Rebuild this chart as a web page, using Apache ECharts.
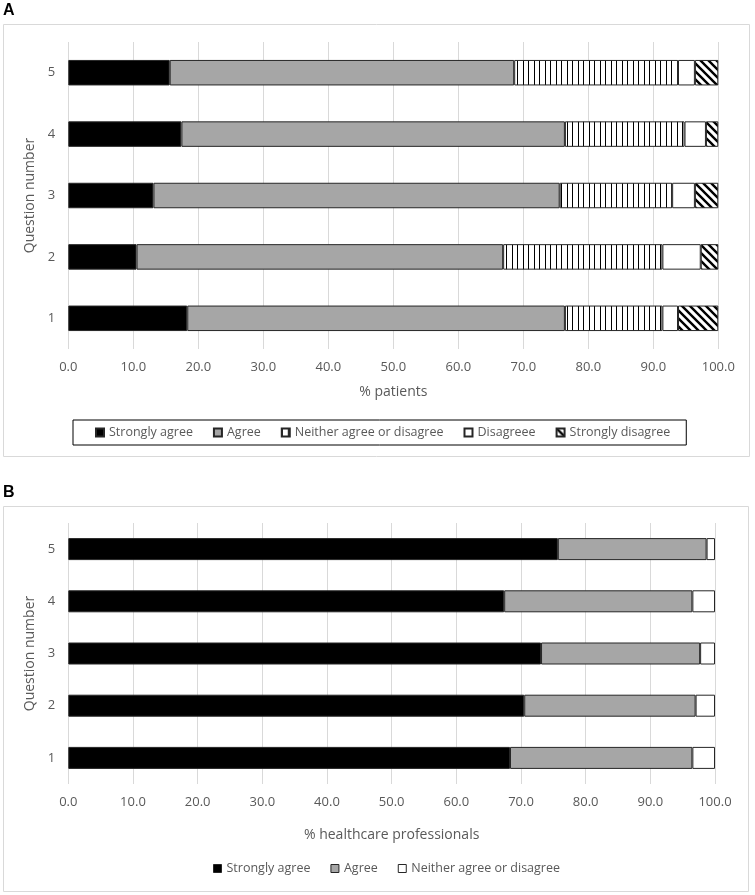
<!DOCTYPE html>
<html lang="en">
  <head>
    <meta charset="UTF-8" />
    <title>Survey responses</title>
    <script src="https://cdn.jsdelivr.net/npm/echarts@6/dist/echarts.min.js"></script>
    <style>
      html, body { margin: 0; padding: 0; background: #fff; }
      #chart { width: 755px; height: 895px; }
    </style>
  </head>
  <body>
    <div id="chart"></div>

    <script>
      const questions = ["1", "2", "3", "4", "5"];

      // panel A: patients (%)
      const patStronglyAgree = [18.3, 10.5, 13.1, 17.4, 15.6];
      const patAgree = [58.1, 56.4, 62.5, 59.0, 53.0];
      const patNeither = [15.0, 24.5, 17.3, 18.4, 25.2];
      const patDisagree = [2.4, 5.9, 3.5, 3.3, 2.6];
      const patStronglyDisagree = [6.2, 2.7, 3.6, 1.9, 3.6];

      // panel B: healthcare professionals (%)
      const hcpStronglyAgree = [68.3, 70.5, 73.1, 67.4, 75.7];
      const hcpAgree = [28.2, 26.5, 24.6, 29.1, 23.0];
      const hcpNeither = [3.5, 3.0, 2.3, 3.5, 1.3];

      const namesA = ["Strongly agree", "Agree", "Neither agree or disagree", "Disagreee", "Strongly disagree"];
      const namesB = ["Strongly agree", "Agree", "Neither agree or disagree"];

      const font = "Open Sans";
      const grey = "#595959";

      // hatch patterns
      function vLines() {
        const c = document.createElement("canvas");
        c.width = 11; c.height = 10;
        const ctx = c.getContext("2d");
        ctx.fillStyle = "#fff";
        ctx.fillRect(0, 0, 11, 10);
        ctx.fillStyle = "#000";
        ctx.fillRect(0, 0, 1, 10);
        ctx.fillRect(6, 0, 1, 10);
        return c;
      }
      function diagLines() {
        const s = 8;
        const c = document.createElement("canvas");
        c.width = s; c.height = s;
        const ctx = c.getContext("2d");
        ctx.fillStyle = "#fff";
        ctx.fillRect(0, 0, s, s);
        ctx.strokeStyle = "#000";
        ctx.lineWidth = 2.4;
        ctx.beginPath();
        ctx.moveTo(-2, -2); ctx.lineTo(s + 2, s + 2);
        ctx.moveTo(-2, s - 2); ctx.lineTo(2, s + 2);
        ctx.moveTo(s - 2, -2); ctx.lineTo(s + 2, 2);
        ctx.stroke();
        return c;
      }
      const vPattern = { image: vLines(), repeat: "repeat" };
      const dPattern = { image: diagLines(), repeat: "repeat" };

      const chart = echarts.init(document.getElementById("chart"));

      const xAxisBase = (gridIndex, name, nameGap) => ({
        type: "value",
        gridIndex,
        min: 0,
        max: 100,
        interval: 10,
        name,
        nameLocation: "middle",
        nameGap,
        nameTextStyle: { color: grey, fontFamily: font, fontSize: 14 },
        axisLine: { show: false },
        axisTick: { show: false },
        axisLabel: {
          color: grey, fontFamily: font, fontSize: 13, margin: 12,
          formatter: (v) => v.toFixed(1),
        },
        splitLine: { lineStyle: { color: "#d9d9d9", width: 1 } },
      });

      const yAxisBase = (gridIndex) => ({
        type: "category",
        gridIndex,
        data: questions,
        name: "Question number",
        nameLocation: "middle",
        nameGap: 31,
        nameTextStyle: { color: grey, fontFamily: font, fontSize: 14 },
        axisLine: { show: false },
        axisTick: { show: false },
        axisLabel: { color: grey, fontFamily: font, fontSize: 13, margin: 13 },
      });

      const bar = (name, data, color, idx, stack, width) => ({
        name,
        type: "bar",
        stack,
        xAxisIndex: idx,
        yAxisIndex: idx,
        barWidth: width,
        data,
        itemStyle: { color, borderColor: "#262626", borderWidth: 1 },
      });

      chart.setOption({
        animation: false,
        textStyle: { fontFamily: font },
        graphic: [
          { type: "rect", z: -10, shape: { x: 3.5, y: 24.5, width: 746, height: 432 },
            style: { fill: "none", stroke: "#d9d9d9", lineWidth: 1 } },
          { type: "rect", z: -10, shape: { x: 3.5, y: 506.5, width: 745, height: 385 },
            style: { fill: "none", stroke: "#d9d9d9", lineWidth: 1 } },
          { type: "text", left: 3, top: 3,
            style: { text: "A", fontFamily: "Liberation Sans", fontWeight: "bold", fontSize: 16, fill: "#000" } },
          { type: "text", left: 3, top: 485,
            style: { text: "B", fontFamily: "Liberation Sans", fontWeight: "bold", fontSize: 16, fill: "#000" } },
        ],
        grid: [
          { left: 68.3, right: 36.7, top: 42, height: 307 },
          { left: 68.3, right: 40, top: 523, height: 261 },
        ],
        legend: [
          {
            data: namesA,
            icon: "rect",
            left: 73,
            top: 420,
            itemWidth: 8,
            itemHeight: 8,
            itemGap: 20,
            padding: [6, 16, 6, 22],
            borderColor: "#000",
            borderWidth: 1,
            selectedMode: false,
            textStyle: { color: grey, fontFamily: font, fontSize: 12.5 },
          },
          {
            data: namesB.map((n, i) => ({
              name: n,
              itemStyle: { color: ["#000", "#a6a6a6", "#fff"][i], borderColor: "#262626", borderWidth: 1 },
            })),
            icon: "rect",
            left: 208,
            top: 857,
            itemWidth: 8,
            itemHeight: 8,
            itemGap: 20,
            selectedMode: false,
            textStyle: { color: grey, fontFamily: font, fontSize: 12.5 },
          },
        ],
        xAxis: [xAxisBase(0, "% patients", 36), xAxisBase(1, "% healthcare professionals", 44)],
        yAxis: [yAxisBase(0), yAxisBase(1)],
        series: [
          bar(namesA[0], patStronglyAgree, "#000", 0, "a", 25.5),
          bar(namesA[1], patAgree, "#a6a6a6", 0, "a", 25.5),
          bar(namesA[2], patNeither, vPattern, 0, "a", 25.5),
          bar(namesA[3], patDisagree, "#fff", 0, "a", 25.5),
          bar(namesA[4], patStronglyDisagree, dPattern, 0, "a", 25.5),
          bar(namesB[0], hcpStronglyAgree, "#000", 1, "b", 22),
          bar(namesB[1], hcpAgree, "#a6a6a6", 1, "b", 22),
          bar(namesB[2], hcpNeither, "#fff", 1, "b", 22),
        ],
      });
    </script>
  </body>
</html>
